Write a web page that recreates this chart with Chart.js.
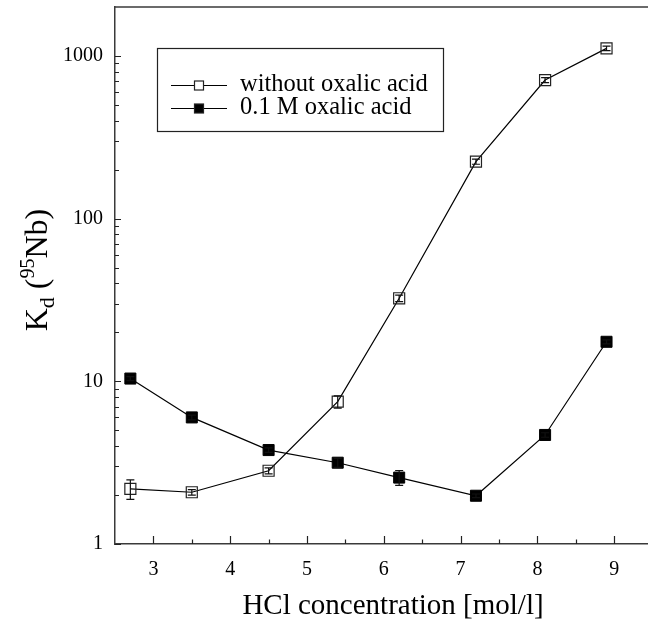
<!DOCTYPE html>
<html><head><meta charset="utf-8">
<script src="https://cdn.jsdelivr.net/npm/chart.js@4/dist/chart.umd.min.js"></script>
<style>html,body{margin:0;padding:0;background:#fff;overflow:hidden}#wrap{width:648px;height:627px;position:relative}</style>
</head><body><div id="wrap"><canvas id="c" width="648" height="627"></canvas></div>
<script>
// ---- data ----
const hclConc = [2.7, 3.5, 4.5, 5.4, 6.2, 7.2, 8.1, 8.9];
const kdWithout = [2.18, 2.08, 2.82, 7.5, 32.4, 224, 711, 1113];
const errWithout = [0.3, 0.08, 0.12, 0.65, 1.5, 8, 25, 35];
const kdOxalic = [10.4, 6.0, 3.78, 3.16, 2.56, 1.98, 4.68, 17.5];
const errOxalic = [0.3, 0.2, 0.12, 0.2, 0.27, 0.05, 0.15, 0.5];
const seriesLabels = ['without oxalic acid', '0.1 M oxalic acid'];
const xTickValues = [3, 4, 5, 6, 7, 8, 9];
const xMinorValues = [3.5, 4.5, 5.5, 6.5, 7.5, 8.5];
const yTickValues = [1, 10, 100, 1000];
const xTitle = 'HCl concentration [mol/l]';
const yTitleParts = [['K', 'n'], ['d', 'sub'], [' (', 'n'], ['95', 'sup'], ['Nb)', 'n']];

const FONT = '"Liberation Serif", "Times New Roman", serif';
const AXIS_COLOR = '#3a3a3a';

const errPlugin = {
  id: 'errbars',
  afterDatasetsDraw(chart) {
    const ctx = chart.ctx, xs = chart.scales.x, ys = chart.scales.y;
    const sets = [errWithout, errOxalic];
    const vals = [kdWithout, kdOxalic];
    ctx.save();
    ctx.strokeStyle = '#111';
    ctx.lineWidth = 1.2;
    sets.forEach((errs, d) => {
      errs.forEach((e, i) => {
        const x = xs.getPixelForValue(hclConc[i]);
        const yT = ys.getPixelForValue(vals[d][i] + e);
        const yB = ys.getPixelForValue(vals[d][i] - e);
        ctx.beginPath();
        ctx.moveTo(x, yT); ctx.lineTo(x, yB);
        ctx.moveTo(x - 4, yT); ctx.lineTo(x + 4, yT);
        ctx.moveTo(x - 4, yB); ctx.lineTo(x + 4, yB);
        ctx.stroke();
      });
    });
    ctx.restore();
  }
};

const decoPlugin = {
  id: 'deco',
  afterDraw(chart) {
    const ctx = chart.ctx, a = chart.chartArea, xs = chart.scales.x, ys = chart.scales.y;
    ctx.save();
    // top border
    ctx.strokeStyle = AXIS_COLOR;
    ctx.lineWidth = 1.5;
    ctx.beginPath();
    ctx.moveTo(a.left, a.top); ctx.lineTo(a.right, a.top);
    ctx.stroke();
    // inward ticks
    ctx.strokeStyle = '#222';
    ctx.lineWidth = 1.2;
    ctx.beginPath();
    xTickValues.forEach(v => { const x = Math.round(xs.getPixelForValue(v)) + 0.5; ctx.moveTo(x, a.bottom); ctx.lineTo(x, a.bottom - 8); });
    xMinorValues.forEach(v => { const x = Math.round(xs.getPixelForValue(v)) + 0.5; ctx.moveTo(x, a.bottom); ctx.lineTo(x, a.bottom - 4.5); });
    for (let k = 0; k <= 3; k++) {
      for (let m = 1; m <= 9; m++) {
        const v = m * Math.pow(10, k);
        if (v >= ys.max) continue;
        const y = Math.round(ys.getPixelForValue(v)) + 0.5;
        ctx.moveTo(a.left, y); ctx.lineTo(a.left + (m === 1 ? 6 : 4), y);
      }
    }
    ctx.stroke();

    // x title
    ctx.fillStyle = '#000';
    ctx.font = '29px ' + FONT;
    ctx.textAlign = 'center';
    ctx.textBaseline = 'alphabetic';
    ctx.fillText(xTitle, 393, 614);

    // y title (rotated, with sub/superscript)
    ctx.save();
    ctx.translate(47, 270);
    ctx.rotate(-Math.PI / 2);
    const sizes = { n: 32, sub: 22, sup: 20 };
    const shifts = { n: 0, sub: 7, sup: -13 };
    let total = 0;
    yTitleParts.forEach(([t, k]) => { ctx.font = sizes[k] + 'px ' + FONT; total += ctx.measureText(t).width; });
    let px = -total / 2;
    ctx.textAlign = 'left';
    yTitleParts.forEach(([t, k]) => {
      ctx.font = sizes[k] + 'px ' + FONT;
      ctx.fillText(t, px, shifts[k]);
      px += ctx.measureText(t).width;
    });
    ctx.restore();

    // legend
    ctx.strokeStyle = '#222';
    ctx.lineWidth = 1.2;
    ctx.strokeRect(157.5, 48.5, 286, 83);
    const rows = [85, 108];
    chart.data.datasets.forEach((ds, i) => {
      const y = rows[i] + 0.5;
      ctx.strokeStyle = '#000';
      ctx.lineWidth = 1.2;
      ctx.beginPath(); ctx.moveTo(171, y); ctx.lineTo(227, y); ctx.stroke();
      ctx.fillStyle = i === 0 ? '#fff' : '#000';
      ctx.fillRect(194.5, y - 4.5, 9, 9);
      ctx.strokeStyle = '#222';
      ctx.strokeRect(194.5, y - 4.5, 9, 9);
      ctx.fillStyle = '#000';
      ctx.font = '24.5px ' + FONT;
      ctx.textAlign = 'left';
      ctx.textBaseline = 'middle';
      ctx.fillText(ds.label, 240, rows[i]);
    });
    ctx.restore();
  }
};

new Chart(document.getElementById('c'), {
  type: 'line',
  data: {
    datasets: [
      {
        label: seriesLabels[0],
        data: hclConc.map((x, i) => ({ x, y: kdWithout[i] })),
        borderColor: '#000', borderWidth: 1.2,
        pointStyle: 'rect', pointRadius: 7.8,
        pointBackgroundColor: 'rgba(255,255,255,0)', pointBorderColor: '#222', pointBorderWidth: 1.2,
        tension: 0
      },
      {
        label: seriesLabels[1],
        data: hclConc.map((x, i) => ({ x, y: kdOxalic[i] })),
        borderColor: '#000', borderWidth: 1.2,
        pointStyle: 'rect', pointRadius: 7.8,
        pointBackgroundColor: '#000', pointBorderColor: '#000', pointBorderWidth: 1,
        tension: 0
      }
    ]
  },
  options: {
    responsive: false,
    animation: false,
    layout: { autoPadding: false, padding: { top: 7, right: 0, left: 0, bottom: 0 } },
    plugins: { legend: { display: false }, tooltip: { enabled: false } },
    scales: {
      x: {
        type: 'linear', min: 2.5, max: 9.44,
        grid: { display: false, drawTicks: false },
        border: { display: true, color: AXIS_COLOR, width: 1.5 },
        ticks: { color: '#000', font: { family: FONT, size: 20 }, padding: 14, callback: v => String(v) },
        afterBuildTicks: s => { s.ticks = xTickValues.map(v => ({ value: v })); },
        afterFit: s => { s.height = 83; s.paddingLeft = 0; s.paddingRight = 0; s.paddingTop = 0; s.paddingBottom = 0; }
      },
      y: {
        type: 'logarithmic', min: 1, max: 2000,
        grid: { display: false, drawTicks: false },
        border: { display: true, color: AXIS_COLOR, width: 1.5 },
        ticks: { color: '#000', font: { family: FONT, size: 20 }, padding: 12, callback: v => String(v) },
        afterBuildTicks: s => { s.ticks = yTickValues.map(v => ({ value: v })); },
        afterFit: s => { s.width = 115; s.paddingLeft = 0; s.paddingRight = 0; s.paddingTop = 0; s.paddingBottom = 0; }
      }
    }
  },
  plugins: [errPlugin, decoPlugin]
});
</script>
</body></html>
